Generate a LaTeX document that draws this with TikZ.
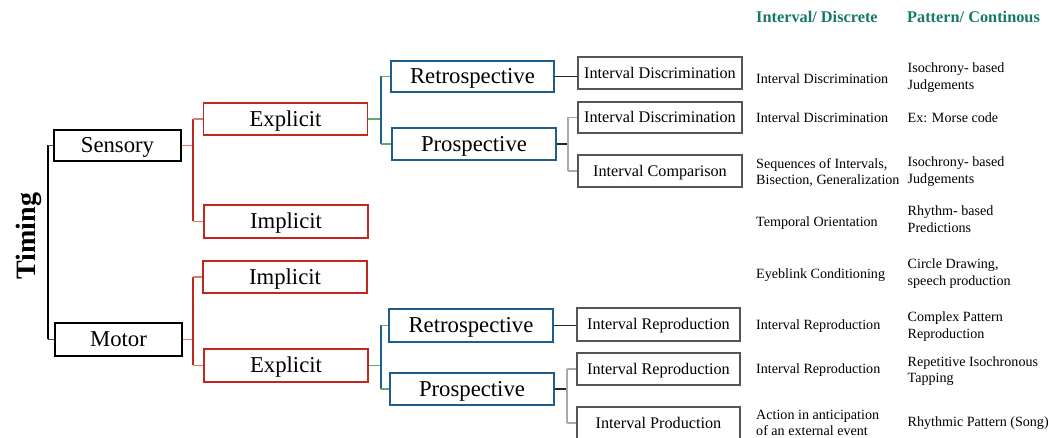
\documentclass[tikz,border=0pt]{standalone}
\usepackage{fontspec}
\setmainfont{Liberation Serif}
\definecolor{bred}{HTML}{C0281C}
\definecolor{lred}{HTML}{E07A6E}
\definecolor{bblue}{HTML}{1F5E8C}
\definecolor{bgreen}{HTML}{5DAE5D}
\definecolor{lgray}{HTML}{AAAAAA}
\definecolor{dgray}{HTML}{555555}
\definecolor{teal}{HTML}{17796A}
\begin{document}
\begin{tikzpicture}[x=1pt,y=-1pt,
  bigbox/.style={draw,line width=1.8pt,inner sep=0pt,minimum height=32pt,
    text height=18.2pt,text depth=3.2pt,
    font=\fontsize{22.7}{26}\selectfont},
  blkbox/.style={bigbox,draw=black,minimum width=127pt},
  redbox/.style={bigbox,draw=bred,minimum width=164pt},
  bluebox/.style={bigbox,draw=bblue,minimum width=164pt},
  graybox/.style={draw=dgray,line width=1.6pt,inner sep=0pt,minimum height=32pt,
    text height=13pt,text depth=2.3pt,
    minimum width=163pt,font=\fontsize{16.2}{19}\selectfont},
  coltext/.style={anchor=west,inner sep=0pt,align=left,
    font=\fontsize{14.1}{16.7}\selectfont},
  head/.style={anchor=west,inner sep=0pt,text=teal,
    font=\fontsize{16.3}{19}\selectfont\bfseries},
  blkline/.style={line width=1.8pt,black},
  redv/.style={line width=1.8pt,bred},
  redh/.style={line width=1.4pt,lred},
  bluev/.style={line width=2.2pt,bblue},
  greenh/.style={line width=1.2pt,bgreen},
  grayv/.style={line width=1.8pt,lgray},
  thin/.style={line width=1.1pt,black!85}]
\useasboundingbox (0,0) rectangle (1053,438);

% title
\node[rotate=90,inner sep=0pt,font=\fontsize{28}{32}\selectfont\bfseries] (timing) at (28.5,236) {Timing};

% level 1
\node[blkbox,minimum height=31pt] (sens) at (117.5,145.5) {Sensory};
\node[blkbox,minimum height=33pt] (mot) at (118.5,339.5) {Motor};

% level 2
\node[redbox] (sexp) at (285.5,119) {Explicit};
\node[redbox,minimum height=33pt] (simp) at (286,221.5) {Implicit};
\node[redbox] (mimp) at (285,277) {Implicit};
\node[redbox,minimum height=33pt] (mexp) at (286,365.5) {Explicit};

% level 3
\node[bluebox,minimum height=31pt,minimum width=163pt] (sret) at (472.5,76.5) {Retrospective};
\node[bluebox] (spro) at (474,144) {Prospective};
\node[bluebox,minimum height=33pt] (mret) at (471,325.5) {Retrospective};
\node[bluebox] (mpro) at (472,389) {Prospective};

% level 4
\node[graybox,minimum width=164pt] (id1) at (660,73) {Interval Discrimination};
\node[graybox,minimum width=164pt,minimum height=31pt] (id2) at (660,117.5) {Interval Discrimination};
\node[graybox,minimum width=164pt] (ic) at (660,171) {Interval Comparison};
\node[graybox,minimum height=33pt] (ir1) at (658.5,324.5) {Interval Reproduction};
\node[graybox] (ir2) at (658.5,369) {Interval Reproduction};
\node[graybox] (ip) at (658.5,423) {Interval Production};

% bracket x positions
\coordinate (bx0) at (48,0);
\coordinate (bx1) at (193,0);
\coordinate (bx2) at (381,0);
\coordinate (bx3) at (568,0);
\coordinate (bx4) at (567,0);

% Timing bracket
\draw[blkline] (sens.west -| bx0) -- (mot.west -| bx0);
\draw[line width=1.4pt,black!70] (sens.west -| bx0) -- (sens.west);
\draw[line width=1.4pt,black!70] (mot.west -| bx0) -- (mot.west);

% Sensory bracket
\draw[redh] (sens.east) -- (sens.east -| bx1);
\draw[redv] (sexp.west -| bx1) -- (simp.west -| bx1);
\draw[redh] (sexp.west -| bx1) -- (sexp.west);
\draw[redh] (simp.west -| bx1) -- (simp.west);

% Motor bracket
\draw[redh] (mot.east) -- (mot.east -| bx1);
\draw[redv] (mimp.west -| bx1) -- (mexp.west -| bx1);
\draw[redh] (mimp.west -| bx1) -- (mimp.west);
\draw[redh] (mexp.west -| bx1) -- (mexp.west);

% Sensory explicit bracket
\draw[greenh] (sexp.east) -- (sexp.east -| bx2);
\draw[bluev] (sret.west -| bx2) -- (spro.west -| bx2);
\draw[greenh] (sret.west -| bx2) -- (sret.west);
\draw[greenh] (spro.west -| bx2) -- (spro.west);

% Motor explicit bracket
\draw[greenh] (mexp.east) -- (mexp.east -| bx2);
\draw[bluev] (mret.west -| bx2) -- (mpro.west -| bx2);
\draw[greenh] (mret.west -| bx2) -- (mret.west);
\draw[greenh] (mpro.west -| bx2) -- (mpro.west);

% Retrospective links
\draw[thin] (sret.east) -- (sret.east -| id1.west);
\draw[thin] (mret.east) -- (mret.east -| ir1.west);

% Prospective brackets
\draw[thin] (spro.east) -- (spro.east -| bx3);
\draw[grayv] (id2.west -| bx3) -- (ic.west -| bx3);
\draw[grayv] (id2.west -| bx3) -- (id2.west);
\draw[grayv] (ic.west -| bx3) -- (ic.west);

\draw[thin] (mpro.east) -- (mpro.east -| bx4);
\draw[grayv] (ir2.west -| bx4) -- (ip.west -| bx4);
\draw[grayv] (ir2.west -| bx4) -- (ir2.west);
\draw[grayv] (ip.west -| bx4) -- (ip.west);

% headers
\node[head] (h1) at (756,17) {Interval/ Discrete};
\node[head] (h2) at (907,17) {Pattern/ Continous};

% column 1
\node[coltext] (a1) at (756,79) {Interval Discrimination};
\node[coltext] (a2) at (756,117.5) {Interval Discrimination};
\node[coltext] (a3) at (756,172.5) {Sequences of Intervals,\\Bisection, Generalization};
\node[coltext] (a4) at (756,223.5) {Temporal Orientation};
\node[coltext] (a5) at (756,275.5) {Eyeblink Conditioning};
\node[coltext] (a6) at (756,326.5) {Interval Reproduction};
\node[coltext] (a7) at (756,370) {Interval Reproduction};
\node[coltext] (a8) at (756,423) {Action in anticipation\\of an external event};

% column 2
\node[coltext] (b1) at (907.5,77.5) {Isochrony- based\\Judgements};
\node[coltext] (b2) at (907.5,118) {Ex: Morse code};
\node[coltext] (b3) at (907.5,171.5) {Isochrony- based\\Judgements};
\node[coltext] (b4) at (907.5,219.5) {Rhythm- based\\Predictions};
\node[coltext] (b5) at (907.5,273.5) {Circle Drawing,\\speech production};
\node[coltext] (b6) at (907.5,326.5) {Complex Pattern\\Reproduction};
\node[coltext] (b7) at (907.5,371) {Repetitive Isochronous\\Tapping};
\node[coltext] (b8) at (907.5,423) {Rhythmic Pattern (Song)};
\end{tikzpicture}
\end{document}
